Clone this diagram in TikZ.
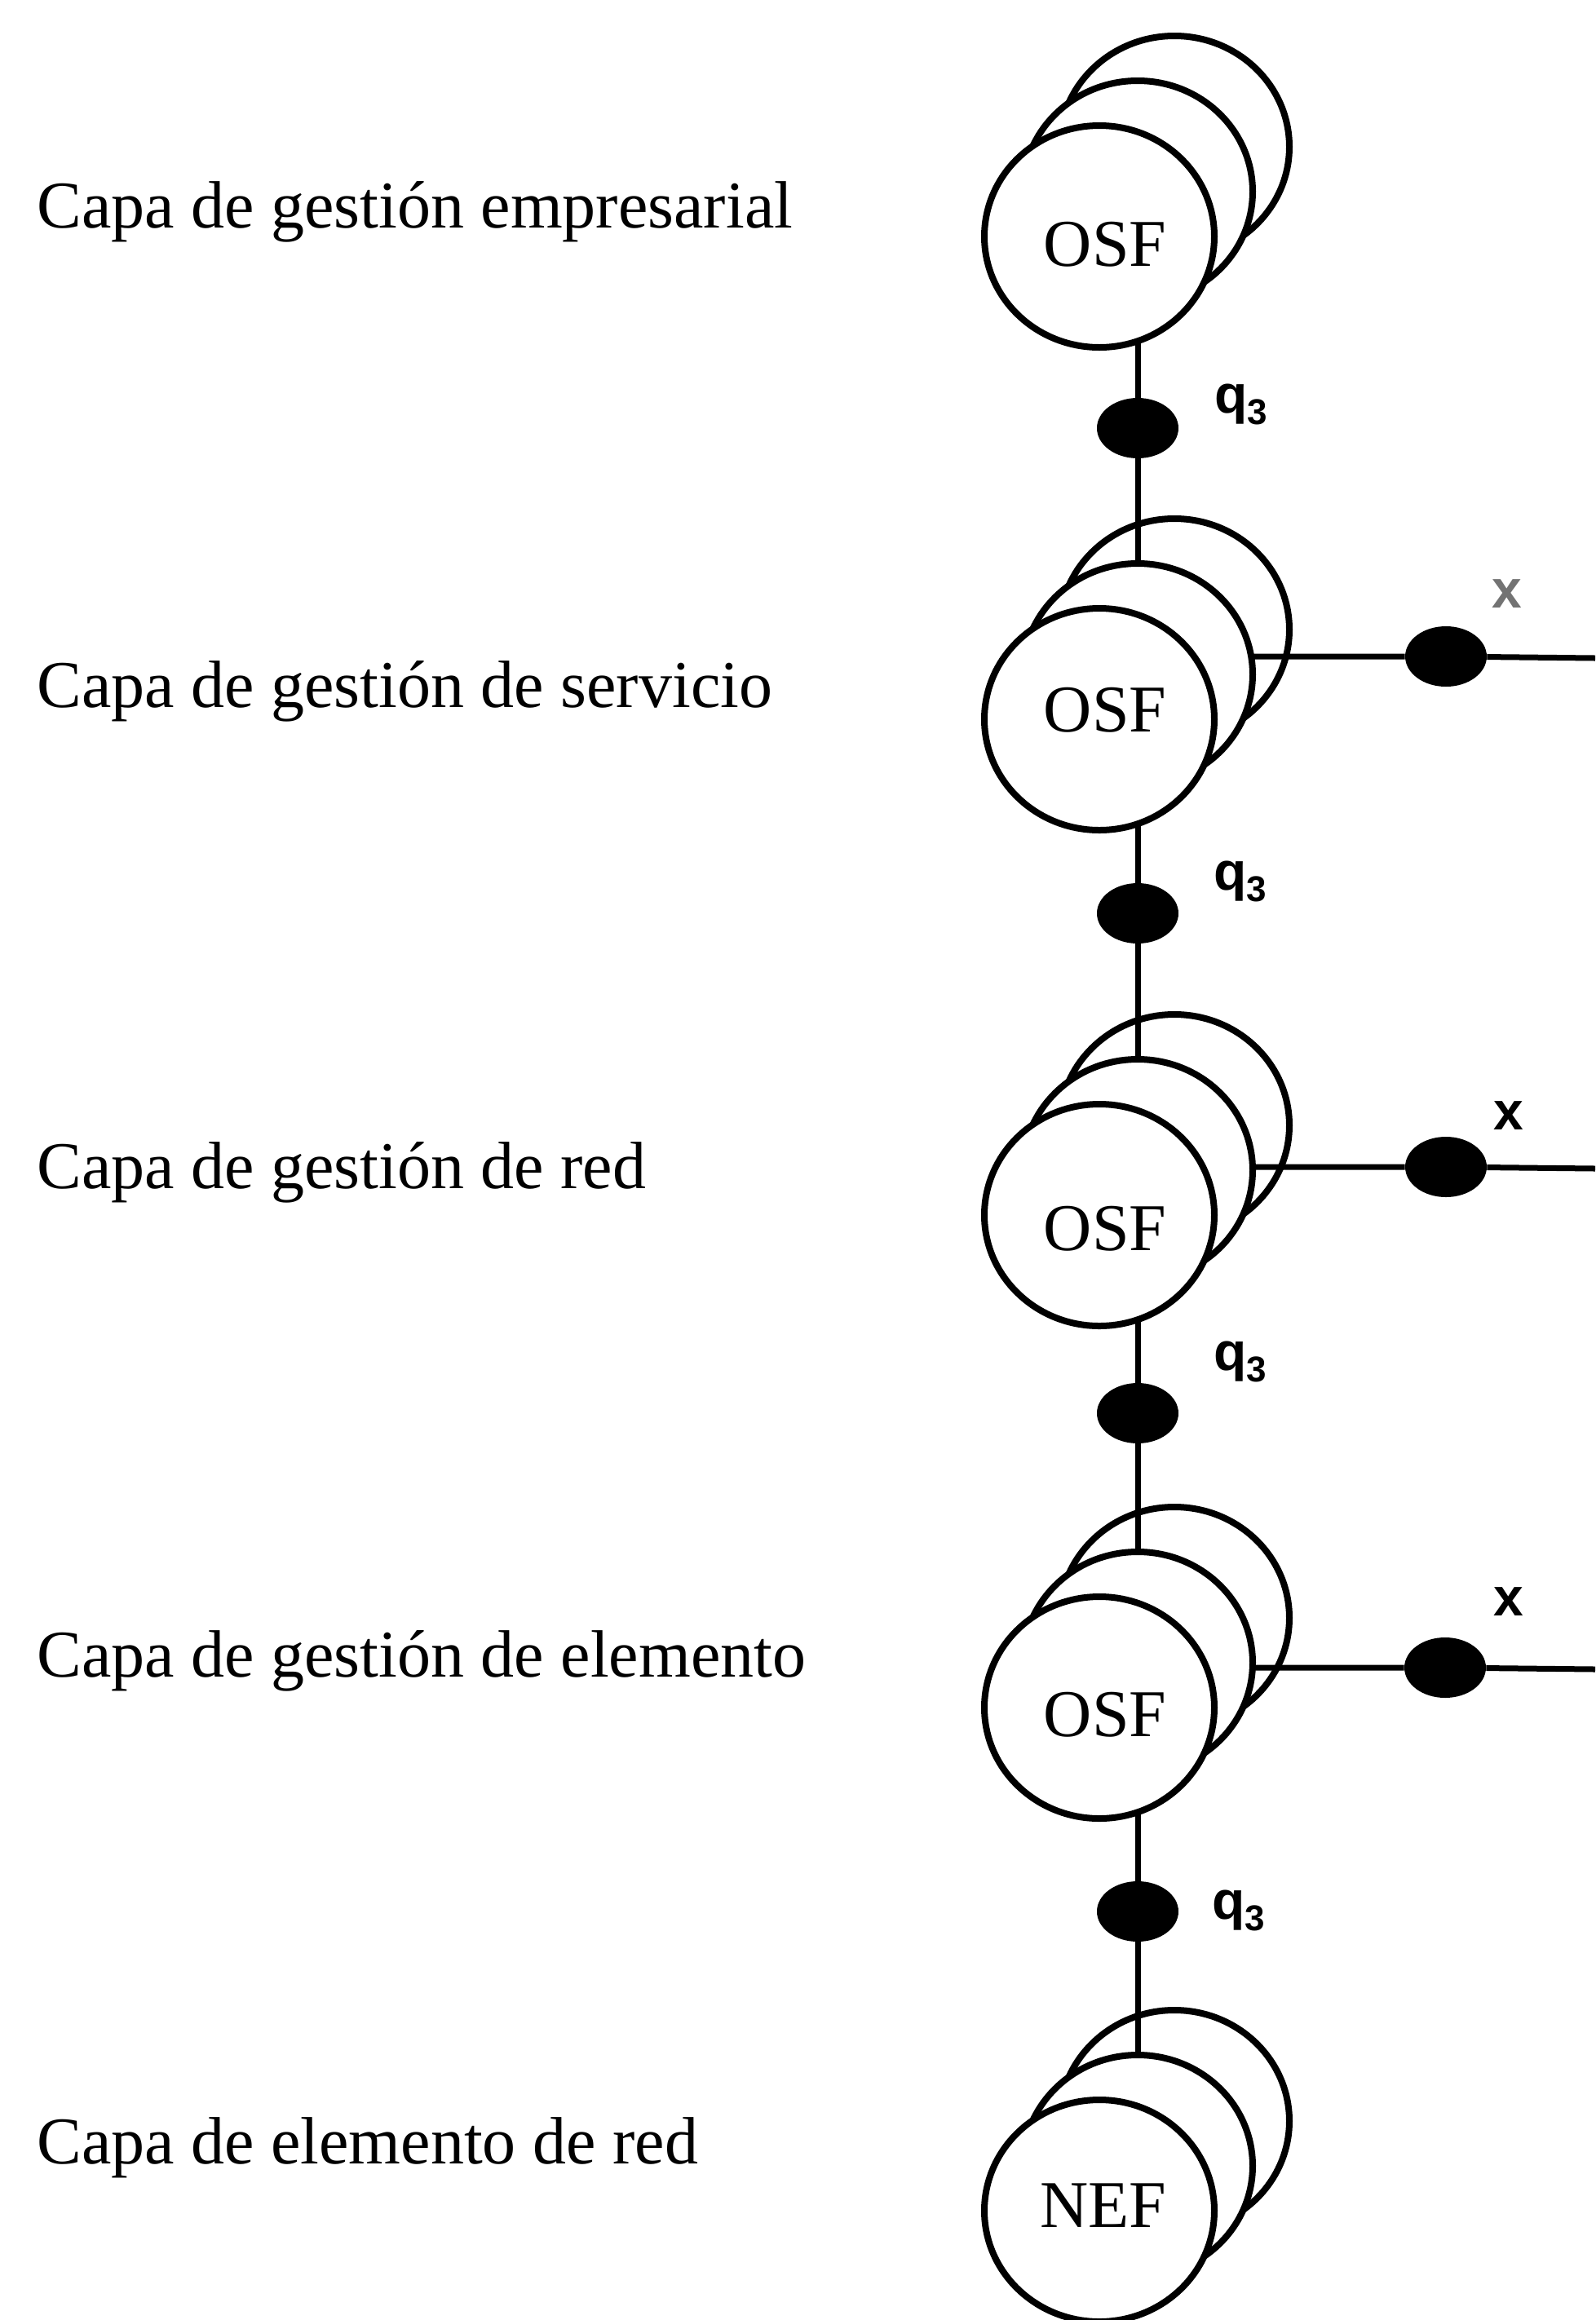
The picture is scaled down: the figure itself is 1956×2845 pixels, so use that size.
\documentclass[tikz,border=0pt]{standalone}
\usepackage{fontspec}
\setmainfont{Liberation Serif}
\newfontfamily\refsans{Liberation Sans}
\usetikzlibrary{shapes.geometric}
\pgfdeclarelayer{rear}
\pgfdeclarelayer{wires}
\pgfsetlayers{rear,wires,main}

% reference point name q with subscript 3
\newcommand{\qthree}{q\raisebox{-7pt}{\fontsize{22}{22}\selectfont 3}}

\begin{document}
\begin{tikzpicture}[x=0.5pt,y=-0.5pt,
  disc/.style={ellipse, draw, fill=white, line width=4pt,
               minimum width=141pt, minimum height=136pt, inner sep=0pt},
  port/.style={ellipse, fill=black, minimum width=50pt,
               minimum height=37pt, inner sep=0pt},
  wire/.style={line width=3.5pt},
  tier/.style={anchor=base west, inner sep=0pt,
               font=\fontsize{41}{41}\selectfont},
  fname/.style={inner sep=0pt, font=\fontsize{41}{41}\selectfont},
  ref/.style={inner sep=0pt, font=\refsans\bfseries\fontsize{33}{33}\selectfont},
]
\useasboundingbox (0,0) rectangle (1956,2845);

% layer names on the left
\node[tier] (c1) at (45,279)  {Capa de gestión empresarial};
\node[tier] (c2) at (45,867)  {Capa de gestión de servicio};
\node[tier] (c3) at (45,1457) {Capa de gestión de red};
\node[tier] (c4) at (45,2056) {Capa de gestión de elemento};
\node[tier] (c5) at (45,2653) {Capa de elemento de red};

% stacks of three function blocks (back, middle, front)
\foreach \i/\y in {1/290, 2/882, 3/1490, 4/2094, 5/2711} {
  \begin{pgfonlayer}{rear}
    \node[disc] (b\i) at (1440,\y-110) {};
  \end{pgfonlayer}
  \node[disc] (m\i) at (1395,\y-55) {};
  \node[disc] (f\i) at (1348,\y) {};
}

\node[fname] (t1) at (1355,300)  {OSF};
\node[fname] (t2) at (1355,871)  {OSF};
\node[fname] (t3) at (1355,1507) {OSF};
\node[fname] (t4) at (1355,2103) {OSF};
\node[fname] (t5) at (1353,2705) {NEF};

% q3 reference points between layers
\node[port] (q1) at (1395,525)  {};
\node[port] (q2) at (1395,1120) {};
\node[port] (q3) at (1395,1733) {};
\node[port] (q4) at (1395,2344) {};

\node[ref] (lq1) at (1522,496)  {\qthree};
\node[ref] (lq2) at (1521,1081) {\qthree};
\node[ref] (lq3) at (1521,1670) {\qthree};
\node[ref] (lq4) at (1519,2343) {\qthree};

% x reference points towards other networks
\node[port] (x2) at (1773,805)  {};
\node[port] (x3) at (1773,1431) {};
\node[port] (x4) at (1772,2045) {};

\node[ref, text=black!55] (lx2) at (1848,728)  {x};
\node[ref] (lx3) at (1850,1368) {x};
\node[ref] (lx4) at (1850,1964) {x};

\coordinate (e2) at (1956,807);
\coordinate (e3) at (1956,1433);
\coordinate (e4) at (1956,2047);

\begin{pgfonlayer}{wires}
  \draw[wire] (m1.center) -- (q1) -- (m2.center);
  \draw[wire] (m2.center) -- (q2) -- (m3.center);
  \draw[wire] (m3.center) -- (q3) -- (m4.center);
  \draw[wire] (m4.center) -- (q4) -- (m5.center);
  \draw[wire] (m2.center |- x2.center) -- (x2) -- (e2);
  \draw[wire] (m3.center |- x3.center) -- (x3) -- (e3);
  \draw[wire] (m4.center |- x4.center) -- (x4) -- (e4);
\end{pgfonlayer}
\end{tikzpicture}
\end{document}
